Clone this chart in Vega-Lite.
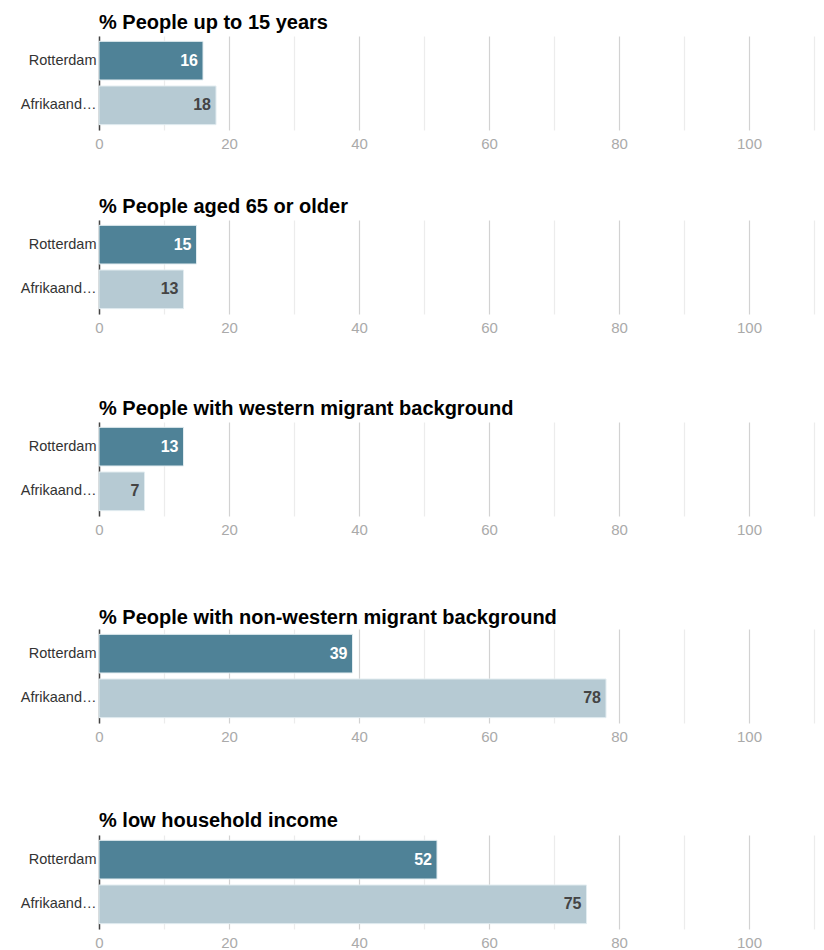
{
  "$schema": "https://vega.github.io/schema/vega-lite/v6.json",
  "padding": {"left": 20, "top": 13, "right": 5, "bottom": 0},
  "background": "white",
  "config": {
    "font": "Liberation Sans",
    "view": {"stroke": null},
    "title": {"anchor": "start", "fontSize": 20, "fontWeight": "bold", "color": "#000000", "frame": "group"},
    "axisY": {"title": null, "labelLimit": 78, "labelFontSize": 14.5, "labelColor": "#333333", "ticks": false, "labelPadding": 3, "domainColor": "#444444", "domainWidth": 1.5, "grid": false},
    "axisX": {"title": null, "domain": false, "ticks": false, "labelFlush": false, "labelColor": "#aaaaaa", "labelFontSize": 15, "labelPadding": 6, "gridWidth": 1.2}
  },
  "data": {
    "values": [
      {"indicator": "p1", "area": "Rotterdam", "value": 16},
      {"indicator": "p1", "area": "Afrikaanderwijk", "value": 18},
      {"indicator": "p2", "area": "Rotterdam", "value": 15},
      {"indicator": "p2", "area": "Afrikaanderwijk", "value": 13},
      {"indicator": "p3", "area": "Rotterdam", "value": 13},
      {"indicator": "p3", "area": "Afrikaanderwijk", "value": 7},
      {"indicator": "p4", "area": "Rotterdam", "value": 39},
      {"indicator": "p4", "area": "Afrikaanderwijk", "value": 78},
      {"indicator": "p5", "area": "Rotterdam", "value": 52},
      {"indicator": "p5", "area": "Afrikaanderwijk", "value": 75}
    ]
  },
  "spacing": 46,
  "vconcat": [
    {
      "title": {"text": "% People up to 15 years", "offset": 3},
      "transform": [{"filter": "datum.indicator === 'p1'"}],
      "width": 715, "height": 94,
      "encoding": {
        "y": {"field": "area", "type": "nominal", "sort": ["Rotterdam", "Afrikaanderwijk"], "scale": {"paddingInner": 0.135, "paddingOuter": 0.12}},
        "x": {"field": "value", "type": "quantitative", "scale": {"domain": [0, 110], "nice": false}, "axis": {"values": [0, 10, 20, 30, 40, 50, 60, 70, 80, 90, 100, 110], "labelExpr": "datum.value % 20 === 0 && datum.value <= 100 ? datum.label : ''", "gridColor": {"condition": {"test": "datum.value % 20 === 0", "value": "#d2d2d2"}, "value": "#ececec"}}}
      },
      "layer": [
        {"mark": {"type": "bar", "stroke": "#e2ecf0", "strokeWidth": 1}, "encoding": {"color": {"field": "area", "type": "nominal", "scale": {"domain": ["Rotterdam", "Afrikaanderwijk"], "range": ["#4f8297", "#b6cad3"]}, "legend": null}}},
        {"mark": {"type": "text", "align": "right", "dx": -5, "fontSize": 16, "fontWeight": "bold"}, "encoding": {"text": {"field": "value", "type": "quantitative"}, "color": {"condition": {"test": "datum.area === 'Rotterdam'", "value": "#ffffff"}, "value": "#444444"}}}
      ]
    },
    {
      "spacing": 64,
      "vconcat": [
        {
          "title": {"text": "% People aged 65 or older", "offset": 3},
          "transform": [{"filter": "datum.indicator === 'p2'"}],
          "width": 715, "height": 94,
          "encoding": {
            "y": {"field": "area", "type": "nominal", "sort": ["Rotterdam", "Afrikaanderwijk"], "scale": {"paddingInner": 0.135, "paddingOuter": 0.12}},
            "x": {"field": "value", "type": "quantitative", "scale": {"domain": [0, 110], "nice": false}, "axis": {"values": [0, 10, 20, 30, 40, 50, 60, 70, 80, 90, 100, 110], "labelExpr": "datum.value % 20 === 0 && datum.value <= 100 ? datum.label : ''", "gridColor": {"condition": {"test": "datum.value % 20 === 0", "value": "#d2d2d2"}, "value": "#ececec"}}}
          },
          "layer": [
            {"mark": {"type": "bar", "stroke": "#e2ecf0", "strokeWidth": 1}, "encoding": {"color": {"field": "area", "type": "nominal", "scale": {"domain": ["Rotterdam", "Afrikaanderwijk"], "range": ["#4f8297", "#b6cad3"]}, "legend": null}}},
            {"mark": {"type": "text", "align": "right", "dx": -5, "fontSize": 16, "fontWeight": "bold"}, "encoding": {"text": {"field": "value", "type": "quantitative"}, "color": {"condition": {"test": "datum.area === 'Rotterdam'", "value": "#ffffff"}, "value": "#444444"}}}
          ]
        },
        {
          "spacing": 71,
          "vconcat": [
            {
              "title": {"text": "% People with western migrant background", "offset": 3},
              "transform": [{"filter": "datum.indicator === 'p3'"}],
              "width": 715, "height": 94,
              "encoding": {
                "y": {"field": "area", "type": "nominal", "sort": ["Rotterdam", "Afrikaanderwijk"], "scale": {"paddingInner": 0.135, "paddingOuter": 0.12}},
                "x": {"field": "value", "type": "quantitative", "scale": {"domain": [0, 110], "nice": false}, "axis": {"values": [0, 10, 20, 30, 40, 50, 60, 70, 80, 90, 100, 110], "labelExpr": "datum.value % 20 === 0 && datum.value <= 100 ? datum.label : ''", "gridColor": {"condition": {"test": "datum.value % 20 === 0", "value": "#d2d2d2"}, "value": "#ececec"}}}
              },
              "layer": [
                {"mark": {"type": "bar", "stroke": "#e2ecf0", "strokeWidth": 1}, "encoding": {"color": {"field": "area", "type": "nominal", "scale": {"domain": ["Rotterdam", "Afrikaanderwijk"], "range": ["#4f8297", "#b6cad3"]}, "legend": null}}},
                {"mark": {"type": "text", "align": "right", "dx": -5, "fontSize": 16, "fontWeight": "bold"}, "encoding": {"text": {"field": "value", "type": "quantitative"}, "color": {"condition": {"test": "datum.area === 'Rotterdam'", "value": "#ffffff"}, "value": "#444444"}}}
              ]
            },
            {
              "spacing": 67,
              "vconcat": [
                {
                  "title": {"text": "% People with non-western migrant background", "offset": 1},
                  "transform": [{"filter": "datum.indicator === 'p4'"}],
                  "width": 715, "height": 94,
                  "encoding": {
                    "y": {"field": "area", "type": "nominal", "sort": ["Rotterdam", "Afrikaanderwijk"], "scale": {"paddingInner": 0.135, "paddingOuter": 0.12}},
                    "x": {"field": "value", "type": "quantitative", "scale": {"domain": [0, 110], "nice": false}, "axis": {"values": [0, 10, 20, 30, 40, 50, 60, 70, 80, 90, 100, 110], "labelExpr": "datum.value % 20 === 0 && datum.value <= 100 ? datum.label : ''", "gridColor": {"condition": {"test": "datum.value % 20 === 0", "value": "#d2d2d2"}, "value": "#ececec"}}}
                  },
                  "layer": [
                    {"mark": {"type": "bar", "stroke": "#e2ecf0", "strokeWidth": 1}, "encoding": {"color": {"field": "area", "type": "nominal", "scale": {"domain": ["Rotterdam", "Afrikaanderwijk"], "range": ["#4f8297", "#b6cad3"]}, "legend": null}}},
                    {"mark": {"type": "text", "align": "right", "dx": -5, "fontSize": 16, "fontWeight": "bold"}, "encoding": {"text": {"field": "value", "type": "quantitative"}, "color": {"condition": {"test": "datum.area === 'Rotterdam'", "value": "#ffffff"}, "value": "#444444"}}}
                  ]
                },
                {
                  "title": {"text": "% low household income", "offset": 4},
                  "transform": [{"filter": "datum.indicator === 'p5'"}],
                  "width": 715, "height": 94,
                  "encoding": {
                    "y": {"field": "area", "type": "nominal", "sort": ["Rotterdam", "Afrikaanderwijk"], "scale": {"paddingInner": 0.135, "paddingOuter": 0.12}},
                    "x": {"field": "value", "type": "quantitative", "scale": {"domain": [0, 110], "nice": false}, "axis": {"values": [0, 10, 20, 30, 40, 50, 60, 70, 80, 90, 100, 110], "labelExpr": "datum.value % 20 === 0 && datum.value <= 100 ? datum.label : ''", "gridColor": {"condition": {"test": "datum.value % 20 === 0", "value": "#d2d2d2"}, "value": "#ececec"}}}
                  },
                  "layer": [
                    {"mark": {"type": "bar", "stroke": "#e2ecf0", "strokeWidth": 1}, "encoding": {"color": {"field": "area", "type": "nominal", "scale": {"domain": ["Rotterdam", "Afrikaanderwijk"], "range": ["#4f8297", "#b6cad3"]}, "legend": null}}},
                    {"mark": {"type": "text", "align": "right", "dx": -5, "fontSize": 16, "fontWeight": "bold"}, "encoding": {"text": {"field": "value", "type": "quantitative"}, "color": {"condition": {"test": "datum.area === 'Rotterdam'", "value": "#ffffff"}, "value": "#444444"}}}
                  ]
                }
              ]
            }
          ]
        }
      ]
    }
  ]
}
